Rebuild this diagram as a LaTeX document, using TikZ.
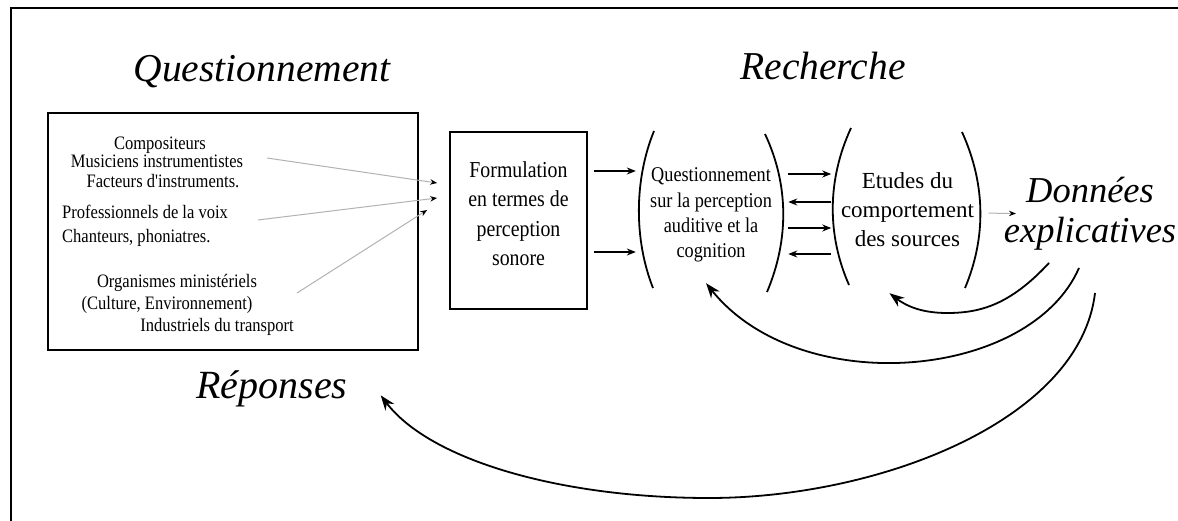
\documentclass[tikz,border=0pt]{standalone}
\usepackage{fontspec}
\setmainfont{Liberation Serif}
\newfontfamily\narrowserif[FakeStretch=0.87]{Liberation Serif}
\usetikzlibrary{arrows.meta, positioning}

\begin{document}
\begin{tikzpicture}[x=1pt,y=-1pt,>={Stealth[length=9pt,width=7pt]}]
  \tikzstyle{title}=[inner sep=0pt,anchor=base,font=\fontsize{39.5}{40}\selectfont\itshape]
  \tikzstyle{actor}=[inner sep=0pt,anchor=base,font=\narrowserif\fontsize{19}{19}\selectfont]
  \tikzstyle{bloc}=[draw,line width=1.7pt]
  \tikzstyle{paren}=[line width=1.8pt]
  \tikzstyle{faint}=[draw=black!30,line width=1pt,-{Stealth[length=7pt,width=5.5pt,black]}]
  \tikzstyle{link}=[->,line width=1.8pt]
  \tikzstyle{loop}=[line width=1.8pt,-{Stealth[length=15pt,width=11pt]}]

  \useasboundingbox (0,0) rectangle (1178,521);
  \draw[line width=1.4pt] (11,521) -- (11,8);
  \draw[line width=2.5pt] (10,8) -- (1178,8);

  \node[title] (quest) at (262,82) {Questionnement};
  \node[title] (rech)  at (823,80) {Recherche};
  \node[title,font=\fontsize{40}{40}\selectfont\itshape]     (rep)     at (272,398)  {Réponses};
  \node[title,font=\fontsize{36.5}{40}\selectfont\itshape]   (donnees) at (1090,203) {Données};
  \node[title,font=\fontsize{36.5}{40}\selectfont\itshape]   (explic)  at (1090,243) {explicatives};

  % who asks
  \node[bloc,minimum width=370pt,minimum height=237pt] (acteurs) at (233,231.5) {};
  \node[actor] (compo) at (160,150) {Compositeurs};
  \node[actor] (musi)  at (157,168) {Musiciens instrumentistes};
  \node[actor] (fact)  at (163,188) {Facteurs d'instruments.};
  \node[actor,anchor=base west] (prof)  at (62,219) {Professionnels de la voix};
  \node[actor,anchor=base west] (chant) at (62,243) {Chanteurs, phoniatres.};
  \node[actor] (orga)  at (177,288) {Organismes ministériels};
  \node[actor] (cult)  at (167,309) {(Culture, Environnement)};
  \node[actor] (indus) at (217,331) {Industriels du transport};

  \node[bloc,minimum width=137pt,minimum height=177pt,align=center,
        font=\narrowserif\fontsize{22.8}{29.4}\selectfont] (formul) at (518.5,220.5)
        {Formulation\\en termes de\\perception\\sonore\rule[-14pt]{0pt}{14pt}};
  \node[minimum width=150pt,minimum height=160pt,align=center,
        font=\narrowserif\fontsize{21}{25.3}\selectfont] (percep) [right=48pt of formul,yshift=5.5pt]
        {Questionnement\\sur la perception\\auditive et la\\cognition};
  \node[minimum width=148pt,minimum height=160pt,align=center,
        font=\fontsize{23}{29}\selectfont] (etudes) [right=47pt of percep]
        {Etudes du\\comportement\\des sources\rule[-10pt]{0pt}{10pt}};

  \coordinate (g1) at (267,158);
  \coordinate (g2) at (258,220);
  \coordinate (g3) at (297,293);
  \draw[faint] (g1) -- ([shift={(-12pt,37.5pt)}]formul.west);
  \draw[faint] (g2) -- ([shift={(-12pt,22.5pt)}]formul.west);
  \draw[faint] (g3) -- ([shift={(-22pt,10.5pt)}]formul.west);

  \draw[paren] (654,131) .. controls (634,180) and (634,240) .. (653,288);
  \draw[paren] (765,134) .. controls (789,185) and (789,240) .. (767,292);
  \draw[paren] (851,128) .. controls (827,180) and (827,235) .. (849,285);
  \draw[paren] (962,132) .. controls (986,185) and (986,238) .. (965,288);

  \draw[link,shorten <=6pt] ([yshift=49.5pt]formul.east) -- ([yshift=44pt]percep.west);
  \draw[link,shorten <=6pt] ([yshift=-31.5pt]formul.east) -- ([yshift=-37pt]percep.west);

  \path[link,shorten <=2pt,shorten >=2pt]
  ([yshift=41pt]percep.east)  edge ([yshift=41pt]etudes.west)
  ([yshift=13pt]etudes.west)  edge ([yshift=13pt]percep.east)
  ([yshift=-13pt]percep.east) edge ([yshift=-13pt]etudes.west)
  ([yshift=-39pt]etudes.west) edge ([yshift=-39pt]percep.east)
  ;

  \draw[faint,shorten <=7pt] ([yshift=2pt]etudes.east) -- ([shift={(-10pt,-10pt)}]donnees.south west);

  \draw[loop] ([shift={(-41pt,-12pt)}]explic.south) .. controls (1010,305) and (980,313) .. (947,313)
    .. controls (920,313) and (905,305) .. ([shift={(-18pt,2pt)}]etudes.south);
  \draw[loop] ([shift={(-11pt,-17pt)}]explic.south) .. controls (1030,380) and (800,400)
    .. ([shift={(-5pt,12pt)}]percep.south);
  \draw[loop] ([shift={(5pt,-42pt)}]explic.south) .. controls (1080,420) and (880,498) .. (709,498)
    .. controls (560,498) and (430,460) .. ([shift={(33pt,-7pt)}]rep.east);
\end{tikzpicture}
\end{document}
